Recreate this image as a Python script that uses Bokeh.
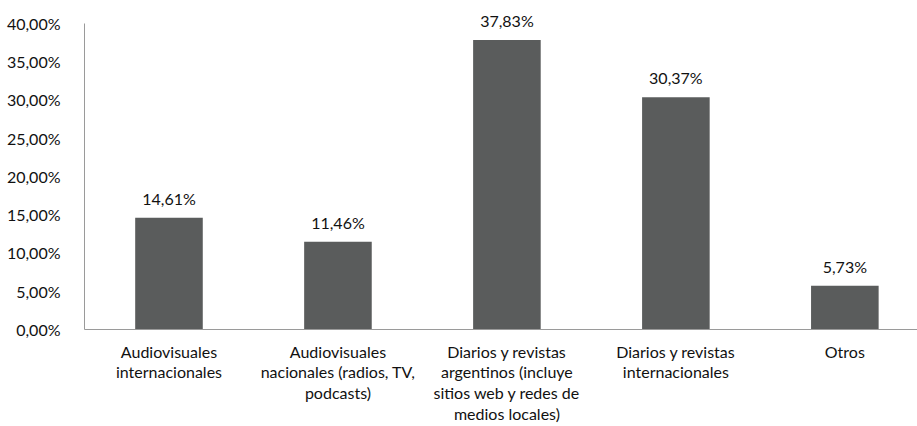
from bokeh.plotting import figure
from bokeh.models import ColumnDataSource, FixedTicker, Range1d
from bokeh.core.properties import value
from bokeh.embed import file_html
from bokeh.resources import INLINE

categories = ["Audiovisuales\ninternacionales",
              "Audiovisuales\nnacionales (radios, TV,\npodcasts)",
              "Diarios y revistas\nargentinos (incluye\nsitios web y redes de\nmedios locales)",
              "Diarios y revistas\ninternacionales",
              "Otros"]
values = [14.61, 11.46, 37.83, 30.37, 5.73]
labels = ["14,61%", "11,46%", "37,83%", "30,37%", "5,73%"]
y_ticks = [0, 5, 10, 15, 20, 25, 30, 35, 40]
y_tick_labels = ["0,00%", "5,00%", "10,00%", "15,00%", "20,00%", "25,00%", "30,00%", "35,00%", "40,00%"]

xs = list(range(len(categories)))
src = ColumnDataSource(dict(x=xs, top=values, label=labels))

FONT = "Lato"

p = figure(width=917, height=426, output_backend="svg", toolbar_location=None,
           x_range=Range1d(-0.5, 4.43), y_range=Range1d(0, 41.83))
p.min_border_left = 84
p.min_border_right = 0
p.min_border_top = 9
p.min_border_bottom = 97
p.outline_line_color = None
p.background_fill_color = "white"
p.border_fill_color = "white"
p.xgrid.grid_line_color = None
p.ygrid.grid_line_color = None

p.vbar(x="x", top="top", width=0.4, bottom=0, source=src, fill_color="#5a5c5c", line_color=None)
p.text(x="x", y="top", text="label", source=src, text_align="center", text_baseline="bottom",
       y_offset=-10, text_font=value(FONT), text_font_size="16px", text_color="#111111")

p.xaxis.ticker = FixedTicker(ticks=xs)
p.xaxis.major_label_overrides = {i: c for i, c in zip(xs, categories)}
p.xaxis.major_tick_line_color = None
p.xaxis.minor_tick_line_color = None
p.xaxis.axis_line_color = "#9a9a9a"
p.xaxis.major_label_standoff = 6
p.xaxis.major_label_text_font = FONT
p.xaxis.major_label_text_font_size = "16px"
p.xaxis.major_label_text_color = "#111111"
p.xaxis.major_label_text_line_height = 1.1

p.yaxis.ticker = FixedTicker(ticks=y_ticks)
p.yaxis.bounds = (0, 40)
p.yaxis.major_label_overrides = {t: l for t, l in zip(y_ticks, y_tick_labels)}
p.yaxis.major_tick_line_color = None
p.yaxis.minor_tick_line_color = None
p.yaxis.axis_line_color = "#9a9a9a"
p.yaxis.major_label_standoff = 18
p.yaxis.major_label_text_font = FONT
p.yaxis.major_label_text_font_size = "16px"
p.yaxis.major_label_text_color = "#111111"

open("out.html", "w").write(file_html(p, INLINE))
